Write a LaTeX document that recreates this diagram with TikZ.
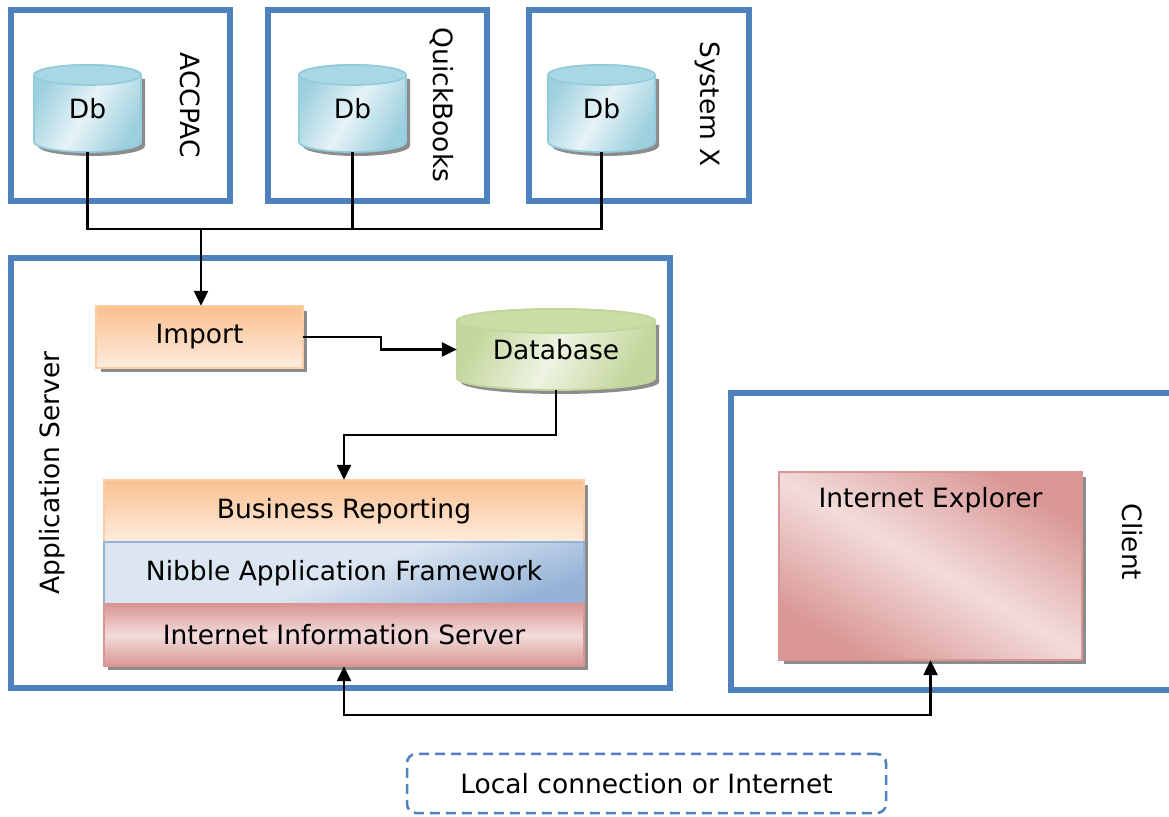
\documentclass[tikz,border=0pt]{standalone}
\usepackage{fontspec}
\setmainfont{DejaVu Sans}
\usetikzlibrary{arrows.meta,calc}
\definecolor{frameblue}{HTML}{4F81BD}
\definecolor{cylD}{HTML}{9DD0DE}
\definecolor{cylL}{HTML}{E6F3F7}
\definecolor{cylE}{HTML}{A9D7E3}
\definecolor{cylB}{HTML}{93CDDD}
\definecolor{grnD}{HTML}{C3D69B}
\definecolor{grnL}{HTML}{EEF3E2}
\definecolor{grnE}{HTML}{CADDA6}
\definecolor{ornD}{HTML}{FAC090}
\definecolor{ornL}{HTML}{FDECDE}
\definecolor{bluD}{HTML}{95B3D7}
\definecolor{bluL}{HTML}{DCE6F2}
\definecolor{redD}{HTML}{D99694}
\definecolor{redL}{HTML}{F2DCDB}
\definecolor{shad}{HTML}{8C8C8C}
\newcommand\mybox[5]{%
  \fill[shad] (#1+5,#2-4) rectangle (#3+4,#4-5);
  \shadedraw[line width=2pt,#5] (#1,#2) rectangle (#3,#4);
}
\newcommand\mycyl[6]{% L R Ytop Ybot ry options
  \pgfmathsetmacro\cx{(#1+#2)/2}\pgfmathsetmacro\rx{(#2-#1)/2}%
  \pgfmathsetmacro\yt{#3-#5}\pgfmathsetmacro\yb{#4+#5}%
  \fill[shad] (#1+4,\yt-4) -- (#1+4,\yb-4) arc[start angle=180,end angle=360,x radius=\rx,y radius=#5] -- (#2+4,\yt-4) -- cycle;
  \shadedraw[line width=1.8pt,#6] (#1,\yt) -- (#1,\yb) arc[start angle=180,end angle=360,x radius=\rx,y radius=#5] -- (#2,\yt) arc[start angle=0,end angle=180,x radius=\rx,y radius=#5] -- cycle;
  \filldraw[line width=1.8pt,endstyle] (\cx,\yt) ellipse[x radius=\rx,y radius=#5];
}
\begin{document}
\begin{tikzpicture}[x=1pt,y=1pt,
  sysframe/.style={draw=frameblue,line width=6.5pt},
  conn/.style={draw=black,line width=2.4pt},
  tipend/.style={-{Triangle[length=15pt,width=14pt]}},
  tipboth/.style={{Triangle[length=15pt,width=14pt]}-{Triangle[length=15pt,width=14pt]}},
  holder/.style={draw=none,inner sep=0pt,font=\fontsize{26.5}{30}\selectfont},
  lbl/.style={inner sep=0pt,font=\fontsize{26.5}{30}\selectfont},
  bluecyl/.style={top color=cylD,bottom color=cylD,middle color=cylL,shading angle=60,draw=cylB},
  greencyl/.style={top color=grnD,bottom color=grnD,middle color=grnL,shading angle=60,draw=grnD},
  endstyle/.style={fill=cylE,draw=cylB}]
\useasboundingbox (0,0) rectangle (1169,816);
\clip (0,0) rectangle (1169,816);
\fill[white] (0,0) rectangle (1169,816);

% source system frames
\draw[sysframe] (11,615) rectangle (230,806);
\draw[sysframe] (268,615) rectangle (487,806);
\draw[sysframe] (529,615) rectangle (749,806);
\node[lbl,rotate=-90] (lacc) at (190,711) {ACCPAC};
\node[lbl,rotate=-90] (lqb) at (442,711) {QuickBooks};
\node[lbl,rotate=-90] (lsx) at (708,712) {System X};

% cylinders
\mycyl{34}{141}{751}{664}{10}{bluecyl}
\mycyl{299}{406}{751}{664}{10}{bluecyl}
\mycyl{548}{655}{751}{664}{10}{bluecyl}
\node[holder,minimum width=107pt,minimum height=87pt] (db1) at (87.5,707.5) {Db};
\node[holder,minimum width=107pt,minimum height=87pt] (db2) at (352.5,707.5) {Db};
\node[holder,minimum width=107pt,minimum height=87pt] (db3) at (601.5,707.5) {Db};

% application server
\draw[sysframe] (11,128) rectangle (670,558);
\node[lbl,rotate=90] (lapp) at (52,343) {Application Server};
\mybox{96}{448}{303}{510}{top color=ornD,bottom color=ornL,draw=ornD!80}
\node[holder,minimum width=207pt,minimum height=62pt] (import) at (199.5,479) {Import};
\begin{scope}[endstyle/.style={fill=grnE,draw=grnD}]
\mycyl{457}{655}{507}{426}{12}{greencyl}
\end{scope}
\node[holder,minimum width=198pt,minimum height=81pt] (dbase) at (556,466.5) {Database};
\fill[shad] (108,146) rectangle (588,331);
\shadedraw[line width=2pt,top color=ornD,bottom color=ornL,draw=ornD!80] (104,274) rectangle (584,336);
\shadedraw[line width=2pt,top color=bluL,bottom color=bluD,middle color=bluL,shading angle=20,draw=bluD] (104,212) rectangle (584,274);
\shadedraw[line width=2pt,top color=redD,bottom color=redD,middle color=redL,draw=redD] (104,150) rectangle (584,212);
\node[holder,minimum width=480pt,minimum height=62pt] (br) at (344,305) {Business Reporting};
\node[holder,minimum width=480pt,minimum height=62pt] (naf) at (344,243) {Nibble Application Framework};
\node[holder,minimum width=480pt,minimum height=62pt] (iis) at (344,181) {Internet Information Server};

% client
\draw[sysframe] (731,126) rectangle (1190,423);
\node[lbl,rotate=-90] (lcl) at (1132,274) {Client};
\mybox{779}{156}{1082}{344}{top color=redD,bottom color=redD,middle color=redL,shading angle=-30,draw=redD}
\node[holder,minimum width=303pt,minimum height=188pt] (ie) at (930.5,250) {};
\node[lbl] (ietxt) at (930.5,316) {Internet Explorer};

% legend
\node[draw=frameblue,line width=2.5pt,dash pattern=on 10pt off 6pt,rounded corners=9pt,
      minimum width=479pt,minimum height=59pt,inner sep=0pt,font=\fontsize{26.5}{30}\selectfont]
      (legend) at (646.5,32.5) {Local connection or Internet};

% connectors
\coordinate (bus) at (201,587);
\draw[conn] (db1.south) |- (bus) -| (db3.south);
\draw[conn] (db2.south) -- (db2.south |- bus);
\draw[conn,tipend] (bus) -- (bus |- import.north);
\draw[conn,tipend] (import.east) -- ++(78,0) |- (dbase.west);
\draw[conn,tipend] (dbase.south) -- ++(0,-45) -| (br.north);
\draw[conn,tipboth] (iis.south) -- ++(0,-49) -| (ie.south);
\end{tikzpicture}
\end{document}
